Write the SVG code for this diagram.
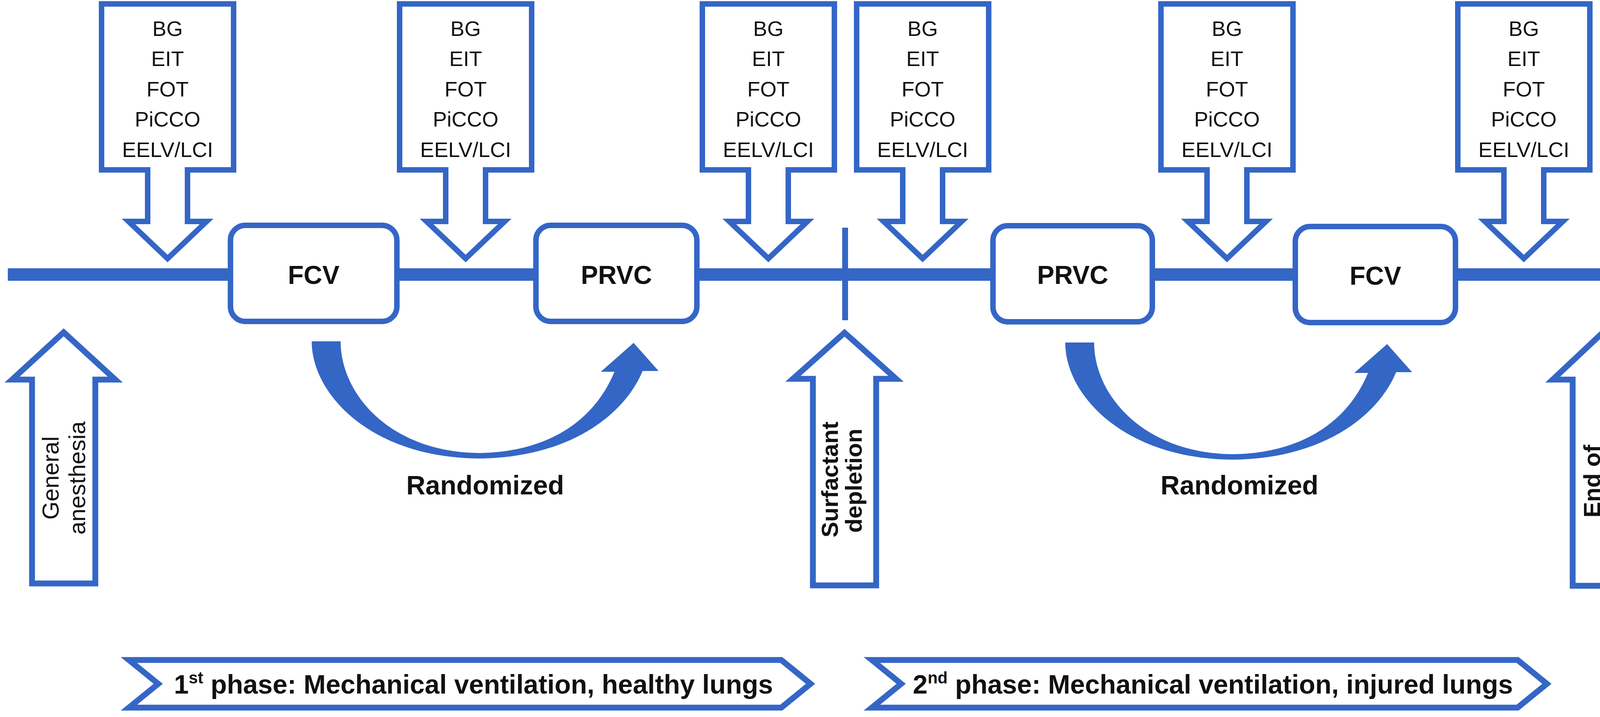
<svg xmlns="http://www.w3.org/2000/svg" width="4328" height="1836" viewBox="0 0 4328 1836">
<defs>
<style>
.bx{fill:#fff;stroke:#3466C6;stroke-width:14;stroke-linejoin:miter;stroke-miterlimit:10}
.fillb{fill:#3466C6}
.t{font-family:"Liberation Sans",Arial,sans-serif;fill:#111;text-anchor:middle}
.m{font-size:54px}
.b{font-weight:bold}
</style>
<path id="callout" class="bx" d="M-169,10 H169 V435 H51 V567 H100 L0,662 L-100,567 H-51 V435 H-169 Z"/>
<path id="curve" class="fillb" d="M798,874 C798,1010 950,1172 1226,1174 C1460,1172 1600,1060 1645,950 L1686,950 L1622,878 L1538,952 L1573,952 C1520,1080 1400,1158 1226,1160 C1000,1158 872,1010 872,874 Z"/>
</defs>
<rect width="4328" height="1836" fill="#fff"/>
<g id="connectors">
<rect class="fillb" x="20" y="687" width="4150" height="32"/>
<polygon class="fillb" points="4160,655 4262,703 4160,752"/>
<rect class="fillb" x="2156" y="583" width="15" height="237"/>
<use id="curve1" href="#curve"/>
<use id="curve2" href="#curve" transform="translate(1929,3)"/>
</g>
<g id="callout1" transform="translate(429,0)">
<use href="#callout"/>
<text class="t m" x="0" y="92">BG</text><text class="t m" x="0" y="169">EIT</text><text class="t m" x="0" y="247">FOT</text><text class="t m" x="0" y="324">PiCCO</text><text class="t m" x="0" y="402">EELV/LCI</text>
</g>
<g id="callout2" transform="translate(1192,0)">
<use href="#callout"/>
<text class="t m" x="0" y="92">BG</text><text class="t m" x="0" y="169">EIT</text><text class="t m" x="0" y="247">FOT</text><text class="t m" x="0" y="324">PiCCO</text><text class="t m" x="0" y="402">EELV/LCI</text>
</g>
<g id="callout3" transform="translate(1967,0)">
<use href="#callout"/>
<text class="t m" x="0" y="92">BG</text><text class="t m" x="0" y="169">EIT</text><text class="t m" x="0" y="247">FOT</text><text class="t m" x="0" y="324">PiCCO</text><text class="t m" x="0" y="402">EELV/LCI</text>
</g>
<g id="callout4" transform="translate(2362,0)">
<use href="#callout"/>
<text class="t m" x="0" y="92">BG</text><text class="t m" x="0" y="169">EIT</text><text class="t m" x="0" y="247">FOT</text><text class="t m" x="0" y="324">PiCCO</text><text class="t m" x="0" y="402">EELV/LCI</text>
</g>
<g id="callout5" transform="translate(3141,0)">
<use href="#callout"/>
<text class="t m" x="0" y="92">BG</text><text class="t m" x="0" y="169">EIT</text><text class="t m" x="0" y="247">FOT</text><text class="t m" x="0" y="324">PiCCO</text><text class="t m" x="0" y="402">EELV/LCI</text>
</g>
<g id="callout6" transform="translate(3901,0)">
<use href="#callout"/>
<text class="t m" x="0" y="92">BG</text><text class="t m" x="0" y="169">EIT</text><text class="t m" x="0" y="247">FOT</text><text class="t m" x="0" y="324">PiCCO</text><text class="t m" x="0" y="402">EELV/LCI</text>
</g>
<g id="fcv1"><rect class="bx" x="590" y="577" width="426" height="246" rx="38"/><text class="t b" x="803" y="727" font-size="66">FCV</text></g>
<g id="prvc1"><rect class="bx" x="1372" y="577" width="412" height="246" rx="38"/><text class="t b" x="1578" y="727" font-size="66">PRVC</text></g>
<g id="prvc2"><rect class="bx" x="2542" y="578" width="408" height="246" rx="38"/><text class="t b" x="2746" y="727" font-size="66">PRVC</text></g>
<g id="fcv2"><rect class="bx" x="3316" y="580" width="410" height="246" rx="38"/><text class="t b" x="3521" y="729" font-size="66">FCV</text></g>
<g id="rand1"><text class="t b" x="1242" y="1266" font-size="68">Randomized</text></g>
<g id="rand2"><text class="t b" x="3173" y="1266" font-size="68">Randomized</text></g>
<g id="anesthesia">
<path class="bx" style="stroke-width:15" d="M82,1494 V972 H31 L163,851 L295,972 H244 V1494 Z"/>
<text class="t" font-size="60" transform="translate(150,1224) rotate(-90)">General</text>
<text class="t" font-size="60" transform="translate(218,1224) rotate(-90)">anesthesia</text>
</g>
<g id="surfactant">
<path class="bx" style="stroke-width:15" d="M2081,1499 V970 H2030 L2162,852 L2294,970 H2243 V1499 Z"/>
<text class="t b" font-size="60" transform="translate(2145,1228) rotate(-90)">Surfactant</text>
<text class="t b" font-size="60" transform="translate(2206,1231) rotate(-90)">depletion</text>
</g>
<g id="end">
<path class="bx" style="stroke-width:15" d="M4026,1500 V972 H3975 L4107,848 L4239,972 H4188 V1500 Z"/>
<text class="t b" font-size="60" transform="translate(4096,1232) rotate(-90)">End of</text>
<text class="t b" font-size="60" transform="translate(4154,1232) rotate(-90)">experiment</text>
</g>
<g id="phase1">
<polygon class="bx" style="stroke-width:15" points="330,1690 2000,1690 2075,1751 2000,1812 330,1812 405,1751"/>
<text class="t b" x="1212" y="1776" font-size="68">1<tspan font-size="42" dy="-26">st</tspan><tspan dy="26"> phase: Mechanical ventilation, healthy lungs</tspan></text>
</g>
<g id="phase2">
<polygon class="bx" style="stroke-width:15" points="2232,1690 3885,1690 3960,1751 3885,1812 2232,1812 2307,1751"/>
<text class="t b" x="3105" y="1776" font-size="68">2<tspan font-size="42" dy="-26">nd</tspan><tspan dy="26"> phase: Mechanical ventilation, injured lungs</tspan></text>
</g>
</svg>
